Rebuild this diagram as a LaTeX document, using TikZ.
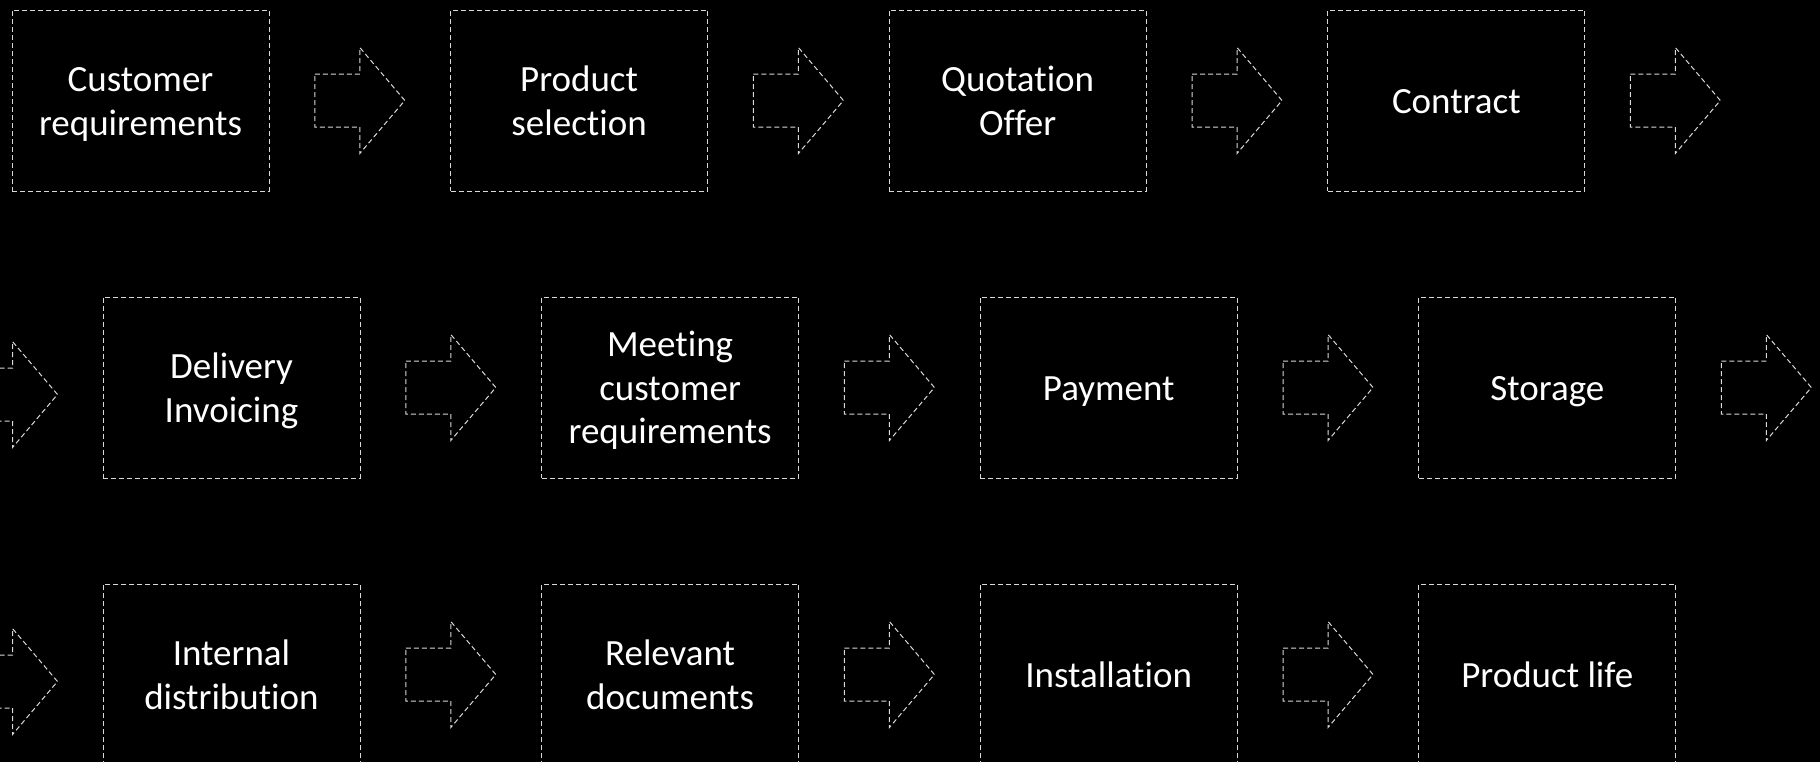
\documentclass[tikz,border=0pt]{standalone}
\usepackage{fontspec}
\setmainfont{Carlito}[Ligatures={NoCommon}]
\usetikzlibrary{calc}
\definecolor{boxline}{HTML}{D9D9D9}
\tikzset{
  % fixed text box: baseline of a single line sits 6.4pt below the centre,
  % further lines add one baselineskip (21.7pt) each to the height
  stepbox/.style={draw=boxline, dash pattern=on 2.5pt off 1.5pt, line width=0.5pt,
    minimum width=128.5pt, minimum height=90.5pt, inner sep=0pt,
    text=white, align=center, font=\fontsize{18.5}{21.7}\selectfont,
    text height=17.85pt, text depth=5pt},
  twoline/.style={text height=39.55pt},
  threeline/.style={text height=61.25pt},
  flowline/.style={draw=boxline, dash pattern=on 2.5pt off 1.5pt, line width=0.5pt},
  fwd/.pic={\draw[flowline] (-45,-26.5) -- (0,-26.5) -- (0,-53) -- (45,0)
      -- (0,53) -- (0,26.5) -- (-45,26.5) -- cycle;}
}
\begin{document}
\begin{tikzpicture}[x=0.5pt,y=-0.5pt]
\fill[black] (0,0) rectangle (1820,762);
\useasboundingbox (0,0) rectangle (1820,762);
\clip (0,0) rectangle (1820,762);

% row 1
\node[stepbox,twoline] (b1) at (140.5,100.5) {Customer\\requirements};
\node[stepbox,twoline] (b2) at (579.1,100.5) {Product\\selection};
\node[stepbox,twoline] (b3) at (1017.7,100.5) {Quotation\\Offer};
\node[stepbox] (b4) at (1456.3,100.5) {Contract};
% row 2
\node[stepbox,twoline] (b5) at (231.5,387.5) {Delivery\\Invoicing};
\node[stepbox,threeline] (b6) at (670.1,387.5) {Meeting\\customer\\requirements};
\node[stepbox] (b7) at (1108.7,387.5) {Payment};
\node[stepbox] (b8) at (1547.3,387.5) {Storage};
% row 3
\node[stepbox,twoline] (b9) at (231.5,674.5) {Internal\\distribution};
\node[stepbox,twoline] (b10) at (670.1,674.5) {Relevant\\documents};
\node[stepbox] (b11) at (1108.7,674.5) {Installation};
\node[stepbox] (b12) at (1547.3,674.5) {Product life};

% block arrows between the steps
\foreach \a/\b in {b1/b2,b2/b3,b3/b4,b5/b6,b6/b7,b7/b8,b9/b10,b10/b11,b11/b12}
  \pic at ($(\a)!0.5!(\b)$) {fwd};

% arrows leading out of one row and into the next
\coordinate (out1) at ($(b4)+(219,0)$);
\coordinate (in2) at ($(b5)+(-219,7)$);
\coordinate (out2) at ($(b8)+(219,0)$);
\coordinate (in3) at ($(b9)+(-219,7)$);
\pic at (out1) {fwd};
\pic at (in2) {fwd};
\pic at (out2) {fwd};
\pic at (in3) {fwd};
\end{tikzpicture}
\end{document}
